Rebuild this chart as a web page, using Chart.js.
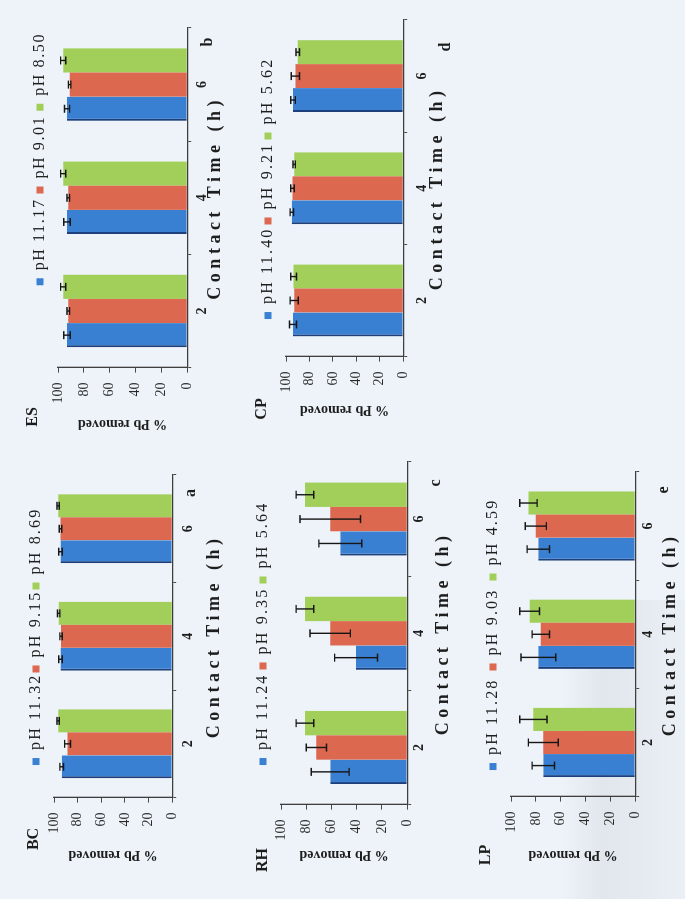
<!DOCTYPE html>
<html>
<head>
<meta charset="utf-8">
<script src="https://cdn.jsdelivr.net/npm/chart.js@4.4.1/dist/chart.umd.min.js"></script>
<style>
  html, body { margin: 0; padding: 0; width: 685px; height: 899px; overflow: hidden; background: #edf3f9; }
  /* faint shading along the lower right edge of the sheet */
  #shade { position: absolute; left: 560px; top: 600px; width: 125px; height: 299px;
           background: linear-gradient(90deg, rgba(160,166,172,0) 0%, rgba(160,166,172,0.16) 35%, rgba(160,166,172,0.10) 70%, rgba(160,166,172,0.04) 100%); }
  /* the figure is laid out landscape and turned a quarter turn counter-clockwise */
  #sheet { position: absolute; left: 0; top: 0; width: 899px; height: 685px;
           transform-origin: 0 0; transform: translate(0, 899px) rotate(-90deg); }
  #sheet canvas { position: absolute; }
  .tag { position: absolute; transform: translate(-50%, -50%); white-space: nowrap;
         font: bold 16px "Liberation Serif", serif; color: #1d1d1d; }
</style>
</head>
<body>
<div id="shade"></div>
<div id="sheet"></div>
<script>
// Contact times (h) shared by every sorbent
const contactTimes = ['2', '4', '6'];
const removalTicks = [0, 20, 40, 60, 80, 100];

// BC
const bcLegend = ['pH 11.32', 'pH 9.15', 'pH 8.69'];
const bcHighPh = [93.5, 94.5, 94.5];
const bcMidPh = [88.5, 94, 94.5];
const bcLowPh = [96.5, 96, 96.5];
const bcHighPhErr = [1.5, 1.5, 1.5];
const bcMidPhErr = [2.5, 1, 1];
const bcLowPhErr = [1, 1, 1];

// ES
const esLegend = ['pH 11.17', 'pH 9.01', 'pH 8.50'];
const esHighPh = [93, 93, 93];
const esMidPh = [92, 92, 91];
const esLowPh = [96, 96, 96];
const esHighPhErr = [2.5, 2.5, 2];
const esMidPhErr = [1, 1, 1];
const esLowPhErr = [2, 2, 2];

// RH
const rhLegend = ['pH 11.24', 'pH 9.35', 'pH 5.64'];
const rhHighPh = [61, 40.5, 53];
const rhMidPh = [72, 61, 61];
const rhLowPh = [81, 81, 81];
const rhHighPhErr = [15, 17, 17];
const rhMidPhErr = [8, 16, 24];
const rhLowPhErr = [7, 7, 7];

// CP
const cpLegend = ['pH 11.40', 'pH 9.21', 'pH 5.62'];
const cpHighPh = [94, 95, 94];
const cpMidPh = [93, 94.5, 92];
const cpLowPh = [93.5, 93, 90];
const cpHighPhErr = [3, 1.5, 2];
const cpMidPhErr = [3.5, 1.5, 3.5];
const cpLowPhErr = [2.5, 1, 1.5];

// LP
const lpLegend = ['pH 11.28', 'pH 9.03', 'pH 4.59'];
const lpHighPh = [74, 78, 78];
const lpMidPh = [74, 76, 80];
const lpLowPh = [82, 85, 86];
const lpHighPhErr = [9, 14, 9];
const lpMidPhErr = [12, 7, 8.5];
const lpLowPhErr = [11, 8, 7];

const seriesColors = ['#3a80d2', '#dc694f', '#a2cf5a'];
const FONT = '"Liberation Serif", serif';
const LEGEND_FONT = 16;
const X_TITLE_FONT = 18;

// Whiskers (value ± error) drawn on top of each bar through the value scale
const errorBarPlugin = {
  id: 'errorBars',
  afterDatasetsDraw(chart) {
    const { ctx } = chart;
    const y = chart.scales.y;
    ctx.save();
    ctx.strokeStyle = '#161616';
    ctx.lineWidth = 1.4;
    chart.data.datasets.forEach((ds, i) => {
      chart.getDatasetMeta(i).data.forEach((bar, j) => {
        const v = ds.data[j], e = ds.errorValues[j];
        const hi = y.getPixelForValue(v + e), lo = y.getPixelForValue(v - e);
        const cap = 4;
        ctx.beginPath();
        ctx.moveTo(bar.x, hi); ctx.lineTo(bar.x, lo);
        ctx.moveTo(bar.x - cap, hi); ctx.lineTo(bar.x + cap, hi);
        ctx.moveTo(bar.x - cap, lo); ctx.lineTo(bar.x + cap, lo);
        ctx.stroke();
      });
    });
    ctx.restore();
  }
};

// Wider tracking for the legend and the category-axis title
function withSpacing(obj, names, px) {
  names.forEach(n => {
    const orig = obj[n];
    obj[n] = function (...a) {
      const c = this.ctx;
      const prev = c.letterSpacing;
      c.letterSpacing = px + 'px';
      try { return orig.apply(this, a); } finally { c.letterSpacing = prev; }
    };
  });
}
const spacingPlugin = {
  id: 'tracking',
  afterInit(chart, args, opts) { withSpacing(chart.legend, ['fit', 'draw'], opts.legend); },
  beforeDraw(chart, args, opts) {
    const xs = chart.scales.x;
    if (!xs._tracked) { withSpacing(xs, ['drawTitle'], opts.axisTitle); xs._tracked = true; }
  }
};

const sheet = document.getElementById('sheet');

function addTag(text, x, y) {
  const d = document.createElement('div');
  d.className = 'tag';
  d.textContent = text;
  d.style.left = x + 'px';
  d.style.top = y + 'px';
  sheet.appendChild(d);
}

function mountPanel(p) {
  const [L, R, T, B] = p.area;
  const yW = p.yTitleOff + 8.4;
  const xH = p.xTitleOff + X_TITLE_FONT * 0.6;
  const lp = Math.max(1, T - p.legendY - LEGEND_FONT / 2);
  const legendH = LEGEND_FONT + 2 * lp;
  const padTop = 3, padRight = 14, padBottom = 2;
  const left = L - yW;
  const top = T - legendH - padTop;
  const width = Math.round(R + padRight - left);
  const height = Math.round(B + xH + padBottom - top);

  const cv = document.createElement('canvas');
  cv.width = width; cv.height = height;
  cv.style.left = left + 'px'; cv.style.top = top + 'px';
  sheet.appendChild(cv);

  const datasets = p.series.map((s, i) => ({
    label: p.legend[i],
    data: s.values,
    errorValues: s.errors,
    backgroundColor: seriesColors[i],
    borderColor: i === 0 ? '#1d3f7c' : seriesColors[i],
    borderWidth: i === 0 ? { left: 2, right: 0, top: 0, bottom: 0 } : 0,
    borderSkipped: false,
    categoryPercentage: 0.64,
    barPercentage: 1.0
  }));

  new Chart(cv, {
    type: 'bar',
    data: { labels: contactTimes, datasets },
    plugins: [errorBarPlugin, spacingPlugin],
    options: {
      responsive: false,
      animation: false,
      devicePixelRatio: 1,
      layout: { padding: { top: padTop, left: 0, right: padRight, bottom: padBottom } },
      plugins: {
        tooltip: { enabled: false },
        tracking: { legend: p.legendTracking, axisTitle: 4.5 },
        legend: {
          position: 'top',
          fullSize: false,
          align: p.legendAlign || 'center',
          labels: {
            boxWidth: 7, boxHeight: 7, padding: lp, color: '#1e1e1e',
            font: { family: FONT, size: LEGEND_FONT },
            generateLabels(chart) {
              return Chart.defaults.plugins.legend.labels.generateLabels(chart)
                .map(l => Object.assign(l, { lineWidth: 0, strokeStyle: 'rgba(0,0,0,0)' }));
            }
          }
        }
      },
      scales: {
        x: {
          grid: { display: true, drawOnChartArea: false, tickLength: 4, offset: true, color: '#4a4a4a' },
          border: { color: '#3e3e3e', width: 1.3 },
          ticks: { color: '#1e1e1e', padding: Math.max(0, p.xLabelOff - 4 - 8.4),
                   font: { family: FONT, size: 14, weight: 'bold' } },
          title: { display: true, text: 'Contact Time (h)', color: '#1e1e1e', padding: 0,
                   font: { family: FONT, size: X_TITLE_FONT, weight: 'bold' } },
          afterFit(s) { s.height = xH; }
        },
        y: {
          min: 0, max: 100,
          afterBuildTicks(s) { s.ticks = removalTicks.map(v => ({ value: v })); },
          grid: { display: true, drawOnChartArea: false, tickLength: 5, color: '#4a4a4a' },
          border: { color: '#3e3e3e', width: 1.3 },
          ticks: { color: '#2a2a2a', padding: 10, font: { family: FONT, size: 14 } },
          title: { display: true, text: '% Pb removed', color: '#1e1e1e', padding: 0,
                   font: { family: FONT, size: 14, weight: 'bold' } },
          afterFit(s) { s.width = yW; }
        }
      }
    }
  });

  addTag(p.name, p.namePos[0], p.namePos[1]);
  addTag(p.letter, p.letterPos[0], p.letterPos[1]);
}

// Panel placement on the sheet: chart area [left, right, top(100 %), bottom(0 %)]
const panels = [
  { name: 'BC', letter: 'a', legend: bcLegend,
    series: [{ values: bcHighPh, errors: bcHighPhErr }, { values: bcMidPh, errors: bcMidPhErr }, { values: bcLowPh, errors: bcLowPhErr }],
    area: [101, 424, 45, 172], legendY: 40, legendTracking: 2.2, yTitleOff: 57, xLabelOff: 16, xTitleOff: 42,
    namePos: [60, 33], letterPos: [406, 190] },
  { name: 'ES', letter: 'b', legend: esLegend, legendAlign: 'end',
    series: [{ values: esHighPh, errors: esHighPhErr }, { values: esMidPh, errors: esMidPhErr }, { values: esLowPh, errors: esLowPhErr }],
    area: [531, 871, 53, 187], legendY: 40, legendTracking: 1.6, yTitleOff: 56, xLabelOff: 15, xTitleOff: 28,
    namePos: [482, 32], letterPos: [857, 207] },
  { name: 'RH', letter: 'c', legend: rhLegend,
    series: [{ values: rhHighPh, errors: rhHighPhErr }, { values: rhMidPh, errors: rhMidPhErr }, { values: rhLowPh, errors: rhLowPhErr }],
    area: [94, 437, 275, 407], legendY: 263, legendTracking: 2.2, yTitleOff: 50, xLabelOff: 11, xTitleOff: 36,
    namePos: [39, 262], letterPos: [416, 435] },
  { name: 'CP', letter: 'd', legend: cpLegend,
    series: [{ values: cpHighPh, errors: cpHighPhErr }, { values: cpMidPh, errors: cpMidPhErr }, { values: cpLowPh, errors: cpLowPhErr }],
    area: [542, 879, 279, 403], legendY: 268, legendTracking: 2.2, yTitleOff: 53, xLabelOff: 19, xTitleOff: 34,
    namePos: [490, 261], letterPos: [852, 445] },
  { name: 'LP', letter: 'e', legend: lpLegend,
    series: [{ values: lpHighPh, errors: lpHighPhErr }, { values: lpMidPh, errors: lpMidPhErr }, { values: lpLowPh, errors: lpLowPhErr }],
    area: [102, 427, 509, 635], legendY: 493, legendTracking: 2.2, yTitleOff: 58, xLabelOff: 13, xTitleOff: 35,
    namePos: [44, 485], letterPos: [409, 663] }
];

panels.forEach(mountPanel);
</script>
</body>
</html>
